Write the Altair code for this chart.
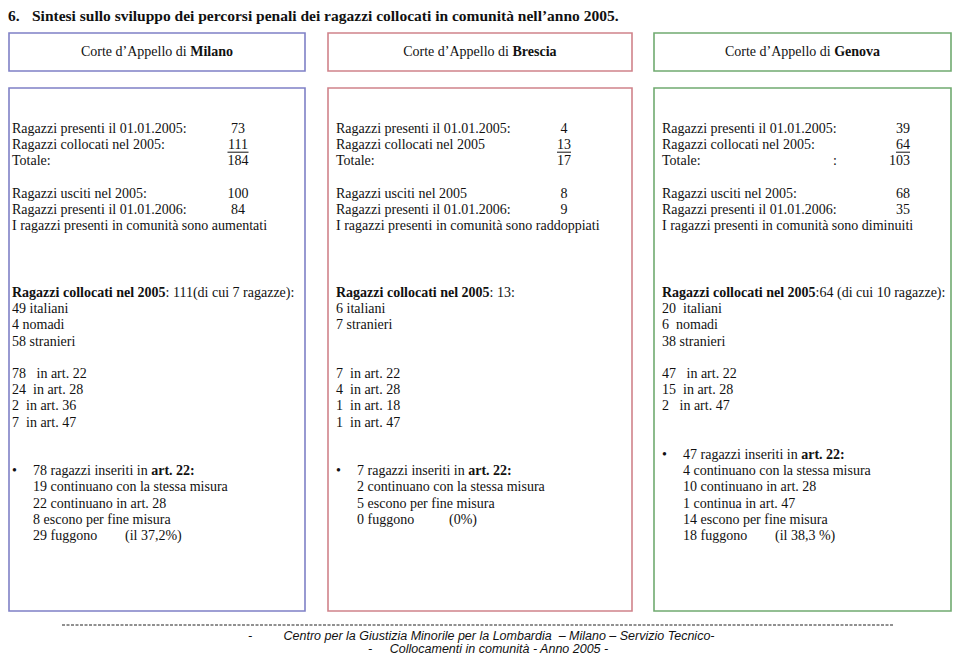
import re
import altair as alt
import pandas as pd

# ------------------------------------------------------------------ data
corti = ["Milano", "Brescia", "Genova"]
colori_corti = ["#7f80c6", "#d0838a", "#70aa70"]

titolo_num = "6."
titolo = "Sintesi sullo sviluppo dei percorsi penali dei ragazzi collocati in comunità nell’anno 2005."
intestazione = "Corte d’Appello di"

stat_etichette = [
    ["Ragazzi presenti il 01.01.2005:", "Ragazzi collocati nel 2005:", "Totale:",
     "Ragazzi usciti nel 2005:", "Ragazzi presenti il 01.01.2006:"],
    ["Ragazzi presenti il 01.01.2005:", "Ragazzi collocati nel 2005", "Totale:",
     "Ragazzi usciti nel 2005", "Ragazzi presenti il 01.01.2006:"],
    ["Ragazzi presenti il 01.01.2005:", "Ragazzi collocati nel 2005:", "Totale:",
     "Ragazzi usciti nel 2005:", "Ragazzi presenti il 01.01.2006:"],
]
stat_valori = [[73, 111, 184, 100, 84], [4, 13, 17, 8, 9], [39, 64, 103, 68, 35]]
stat_righe = [0, 1, 2, 4, 5]
esito = ["I ragazzi presenti in comunità sono aumentati",
         "I ragazzi presenti in comunità sono raddoppiati",
         "I ragazzi presenti in comunità sono diminuiti"]

collocati_titolo = "Ragazzi collocati nel 2005"
collocati_dettaglio = [": 111(di cui 7 ragazze):", ": 13:", ":64 (di cui 10 ragazze):"]
provenienza = [["49 italiani", "4 nomadi", "58 stranieri"],
               ["6 italiani", "7 stranieri"],
               ["20  italiani", "6  nomadi", "38 stranieri"]]
articoli = [["78   in art. 22", "24  in art. 28", "2  in art. 36", "7  in art. 47"],
            ["7  in art. 22", "4  in art. 28", "1  in art. 18", "1  in art. 47"],
            ["47   in art. 22", "15  in art. 28", "2   in art. 47"]]
art22_inseriti = [78, 7, 47]
art22_esiti = [["19 continuano con la stessa misura", "22 continuano in art. 28",
                "8 escono per fine misura"],
               ["2 continuano con la stessa misura", "5 escono per fine misura"],
               ["4 continuano con la stessa misura", "10 continuano in art. 28",
                "1 continua in art. 47", "14 escono per fine misura"]]
fuggono = [29, 0, 18]
fuggono_pct = ["(il 37,2%)", "(0%)", "(il 38,3 %)"]

piede_1 = "Centro per la Giustizia Minorile per la Lombardia  – Milano – Servizio Tecnico-"
piede_2 = "Collocamenti in comunità - Anno 2005 -"

# ------------------------------------------------------------------ layout helpers
SERIF = "Liberation Serif, Times New Roman, serif"
NARROW = "Liberation Sans Narrow, Arial Narrow, Liberation Sans, sans-serif"
FS = 14

REG = {' ': 250, '’': 333, '(': 333, ')': 333, ',': 250, '-': 333, '.': 250, ':': 278,
       '%': 833, 'A': 722, 'C': 667, 'I': 333, 'R': 667, 'T': 611,
       'a': 444, 'b': 500, 'c': 444, 'd': 500, 'e': 444, 'f': 333, 'g': 500, 'h': 500,
       'i': 278, 'l': 278, 'm': 778, 'n': 500, 'o': 500, 'p': 500, 'r': 333, 's': 389,
       't': 278, 'u': 500, 'v': 500, 'z': 444, 'à': 444}
BOLD = {' ': 250, '.': 250, ':': 333, 'M': 944, 'B': 667, 'G': 778, 'R': 722,
        'a': 500, 'c': 444, 'd': 556, 'e': 444, 'g': 500, 'i': 278, 'l': 278, 'n': 556,
        'o': 500, 'r': 444, 's': 389, 't': 333, 'v': 500, 'z': 444, 'p': 556, 'u': 556}


def tw(s, bold=False, size=FS):
    table = BOLD if bold else REG
    return sum(table.get(ch, 500) for ch in s) * size / 1000.0


def nb(s):
    return re.sub(r"(?<= ) ", "\u00a0", s)


box_x = [(9, 305), (328, 632), (654, 951)]
col_x = [12, 336, 662]
val_anchor = [(238, "center"), (564, "center"), (910, "right")]
head_y = (33, 71)
main_y = (88, 611)
LH = 16.2
top_y0 = 129
low_y0 = 293
bullet_indent = 21
tab_pct = 92

rows = []
rules = []


def add(x, y, t, style):
    rows.append({"x": x, "y": y, "t": nb(t), "style": style})


# title
add(8, 16, titolo_num, "title")
add(32, 16, titolo, "title")

boxes = []
for i, corte in enumerate(corti):
    x0, x1 = box_x[i]
    boxes.append({"x": x0, "x2": x1, "y": head_y[0], "y2": head_y[1], "c": colori_corti[i]})
    boxes.append({"x": x0, "x2": x1, "y": main_y[0], "y2": main_y[1], "c": colori_corti[i]})
    # header text, centred in box
    w1 = tw(intestazione + " ")
    w2 = tw(corte, bold=True)
    start = (x0 + x1) / 2 - (w1 + w2) / 2
    add(start, 52, intestazione, "reg_left")
    add(start + w1, 52, corte, "bold_left")

    cx = col_x[i]
    # statistics block
    for lab, val, r in zip(stat_etichette[i], stat_valori[i], stat_righe):
        y = top_y0 + r * LH
        add(cx, y, lab, "reg_left")
        ax, al = val_anchor[i]
        add(ax, y, str(val), "val_" + al)
        if r == 1:
            w = tw(str(val))
            if al == "center":
                ux0, ux1 = ax - w / 2, ax + w / 2
            else:
                ux0, ux1 = ax - w, ax
            rules.append({"x": ux0, "x2": ux1, "y": y + 7})
    if i == 2:
        add(835, top_y0 + 2 * LH, ":", "val_center")
    add(cx, top_y0 + 6 * LH, esito[i], "reg_left")

    # lower block
    add(cx, low_y0, collocati_titolo, "bold_left")
    add(cx + tw(collocati_titolo, bold=True), low_y0, collocati_dettaglio[i], "reg_left")
    for k, t in enumerate(provenienza[i]):
        add(cx, low_y0 + (1 + k) * LH, t, "reg_left")
    for k, t in enumerate(articoli[i]):
        add(cx, low_y0 + (5 + k) * LH, t, "reg_left")
    kb = 5 + len(articoli[i]) + 2
    yb = low_y0 + kb * LH
    add(cx, yb, "•", "reg_left")
    first = f"{art22_inseriti[i]} ragazzi inseriti in "
    add(cx + bullet_indent, yb, first.strip(), "reg_left")
    add(cx + bullet_indent + tw(first), yb, "art. 22:", "bold_left")
    for k, t in enumerate(art22_esiti[i]):
        add(cx + bullet_indent, low_y0 + (kb + 1 + k) * LH, t, "reg_left")
    yf = low_y0 + (kb + 1 + len(art22_esiti[i])) * LH
    add(cx + bullet_indent, yf, f"{fuggono[i]} fuggono", "reg_left")
    add(cx + bullet_indent + tab_pct, yf, fuggono_pct[i], "reg_left")

# footer
add(250, 636, "-", "foot")
add(499, 636, piede_1, "foot")
add(370, 648.5, "-", "foot")
add(499, 648.5, piede_2, "foot")

texts = pd.DataFrame(rows)
box_df = pd.DataFrame(boxes)
under_df = pd.DataFrame(rules)
dash_df = pd.DataFrame([{"x": 62, "x2": 894, "y": 625}])

W, H = 944, 647
xs = alt.Scale(domain=[8, 8 + W], range=[0, W], nice=False, zero=False)
ys = alt.Scale(domain=[8, 8 + H], range=[0, H], nice=False, zero=False)


def X(f="x"):
    return alt.X(f + ":Q", scale=xs, axis=None)


def Y(f="y"):
    return alt.Y(f + ":Q", scale=ys, axis=None)


box_layer = alt.Chart(box_df).mark_rect(fillOpacity=0, strokeWidth=1.6).encode(
    x=X(), x2="x2:Q", y=Y(), y2="y2:Q", stroke=alt.Stroke("c:N", scale=None)
)
under_layer = alt.Chart(under_df).mark_rule(color="#111", strokeWidth=1).encode(
    x=X(), x2="x2:Q", y=Y()
)
dash_layer = alt.Chart(dash_df).mark_rule(color="#222", strokeWidth=1, strokeDash=[3, 1.5]).encode(
    x=X(), x2="x2:Q", y=Y()
)

styles = {
    "title": dict(align="left", font=SERIF, fontSize=15.5, fontWeight="bold"),
    "reg_left": dict(align="left", font=SERIF, fontSize=FS),
    "bold_left": dict(align="left", font=SERIF, fontSize=FS, fontWeight="bold"),
    "val_center": dict(align="center", font=SERIF, fontSize=FS),
    "val_right": dict(align="right", font=SERIF, fontSize=FS),
    "foot": dict(align="center", font=NARROW, fontSize=12.5, fontStyle="italic"),
}

layers = [box_layer, under_layer, dash_layer]
for name, st in styles.items():
    layers.append(
        alt.Chart(texts).transform_filter(alt.datum.style == name)
        .mark_text(baseline="middle", color="#111", **st)
        .encode(x=X(), y=Y(), text="t:N")
    )

chart = alt.layer(*layers).properties(
    width=W, height=H, padding=0, autosize=alt.AutoSizeParams(type="none")
).configure_view(stroke=None)

chart.save("out.html", embed_options={"renderer": "svg", "actions": False})
